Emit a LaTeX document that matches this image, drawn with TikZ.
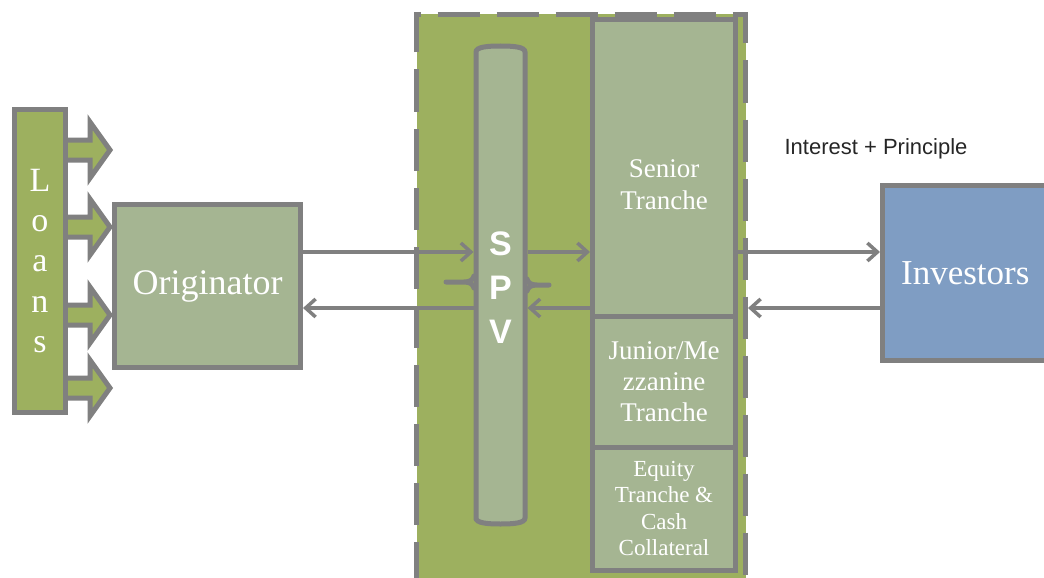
\documentclass[tikz,border=0pt]{standalone}
\usepackage{fontspec}
\setmainfont{Liberation Serif}
\setsansfont{Liberation Sans}
\usetikzlibrary{arrows.meta}
\definecolor{loangreen}{HTML}{9DB05F}
\definecolor{sage}{HTML}{A5B592}
\definecolor{edgegray}{HTML}{808080}
\definecolor{steel}{HTML}{7F9DC3}
\begin{document}
\begin{tikzpicture}[x=1pt, y=-1pt,
  box/.style={draw=edgegray, fill=sage, line width=5pt, inner sep=0pt, text=white, align=center},
  frame/.style={fill=loangreen, line width=5pt, inner sep=0pt},
  dashline/.style={draw=edgegray, line width=5pt, dash pattern=on 42pt off 17pt, dash phase=42.5pt},
  flow/.style={draw=edgegray, line width=3.5pt, -{Straight Barb[length=10pt,width=18pt]}},
  brace/.style={draw=edgegray, line width=5pt, line cap=round}]
  \useasboundingbox (0,0) rectangle (1044,578);
  \clip (0,0) rectangle (1044,578);
  \coordinate (hi) at (0,252);
  \coordinate (lo) at (0,308);
  % SPV frame
  \node[frame, minimum width=329pt, minimum height=586pt] (frame) at (581,307) {};
  \draw[dashline] (416.5,600) -- (416.5,14.5) -- (745.5,14.5) -- (745.5,600);
  % loan arrows
  \foreach \y in {150,227,315,388} {
    \draw[edgegray, fill=loangreen, line width=5pt] (60,\y-10) -- (90,\y-10) -- (90,\y-28) -- (110,\y)
      -- (90,\y+28) -- (90,\y+10) -- (60,\y+10) -- cycle;
  }
  \node[box, fill=loangreen, minimum width=51pt, minimum height=303pt,
    font=\fontsize{34}{40.3}\selectfont] (loans) at (40,261) {L\\o\\a\\n\\s};
  \node[box, minimum width=186pt, minimum height=163pt,
    font=\fontsize{36}{40}\selectfont] (orig) at (207.5,286) {Originator};
  % SPV cylinder
  \draw[box] (476,520) -- (476,52) .. controls (476,47) and (487,46) .. (500.5,46)
    .. controls (514,46) and (525,47) .. (525,52) -- (525,518)
    .. controls (525,523) and (514,524) .. (500.5,524) .. controls (487,524) and (476,523) .. (476,518) -- cycle;
  \coordinate (spvW) at (473.5,285);
  \coordinate (spvE) at (527.5,285);
  \draw[brace] (446,282) -- (464,282) .. controls (470,282) and (473,280) .. (474,276)
    (464,282) .. controls (470,282) and (473,284) .. (474,288);
  \draw[brace] (549,285) -- (537,285) .. controls (531,285) and (528,283) .. (527,279)
    (537,285) .. controls (531,285) and (528,287) .. (527,291);
  \node[text=white, align=center, font=\sffamily\bfseries\fontsize{34}{44}\selectfont] (spv) at (500.5,288) {S\\P\\V};
  % tranches
  \node[box, minimum width=143pt, minimum height=296.5pt] (senior) at (664,168) {};
  \node[text=white, align=center, font=\fontsize{27}{32}\selectfont] (seniortxt) at (664,185) {Senior\\Tranche};
  \node[box, minimum width=143pt, minimum height=131pt,
    font=\fontsize{27}{31}\selectfont] (junior) at (664,381.5) {Junior/Me\\zzanine\\Tranche};
  \node[box, minimum width=143pt, minimum height=123pt,
    font=\fontsize{23}{26.5}\selectfont] (equity) at (664,508.5) {Equity\\Tranche \&\\Cash\\Collateral};
  % investors
  \node[box, fill=steel, minimum width=165.5pt, minimum height=175pt,
    font=\fontsize{35}{40}\selectfont] (inv) at (965.25,273) {Investors};
  \node[font=\sffamily\fontsize{22}{26}\selectfont, text=black!85] (ip) at (876,149) {Interest + Principle};
  % flows
  \draw[flow] (orig.east |- hi) -- (spvW |- hi);
  \draw[flow] (spvE |- hi) -- (senior.west |- hi);
  \draw[flow] (senior.east |- hi) -- (inv.west |- hi);
  \draw[flow] (inv.west |- lo) -- (frame.east |- lo);
  \draw[flow] (senior.west |- lo) -- (spvE |- lo);
  \draw[flow] (spvW |- lo) -- (orig.east |- lo);
\end{tikzpicture}
\end{document}
